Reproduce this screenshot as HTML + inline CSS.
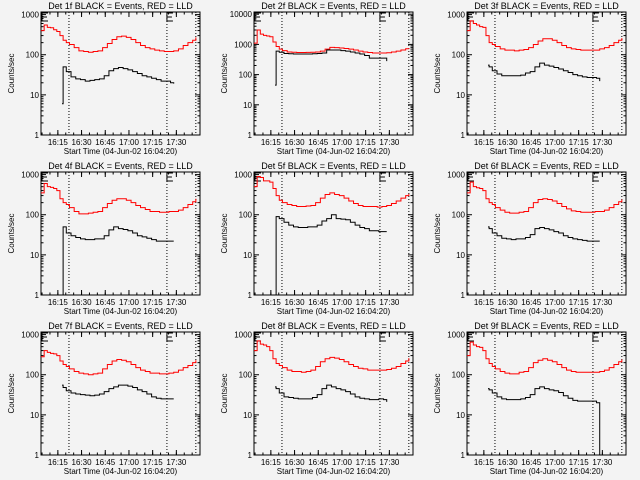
<!DOCTYPE html>
<html><head><meta charset="utf-8"><style>
html,body{margin:0;padding:0;background:#f3f3f3;}
svg{display:block;}
text{font-family:"Liberation Sans",sans-serif;fill:#000;}
</style></head><body>
<svg id="chart" width="640" height="480" viewBox="0 0 640 480" xmlns="http://www.w3.org/2000/svg">
<rect width="640" height="480" fill="#f3f3f3"/>
</svg>
<script>
const detectorNames = ["1f","2f","3f","4f","5f","6f","7f","8f","9f"];
const redTimes = [0,2,4,6,8,10,12,14,16,18,21,24,27,30,33,36,39,42,45,48,51,54,57,60,63,66,69,72,75,78,81,84,87,90,93,96,98];
const blackTimes = [13.3,14,16,19,22,25,28,31,34,37,40,43,46,49,52,55,58,61,64,67,70,73,76,79,82,84];
const red1 = [400,550,480,470,420,380,300,230,200,180,150,125,120,115,120,125,150,190,240,280,290,270,240,200,170,150,140,130,125,120,120,125,140,170,200,230,270];
const black1 = [6,50,38,28,25,24,22,23,24,25,30,40,45,48,45,42,38,34,30,28,26,24,22,22,20,19];
const red2 = [1100,3000,2200,2000,1900,1800,1200,850,700,620,560,550,540,540,545,550,560,600,700,800,780,760,730,700,650,600,560,540,520,520,520,530,560,600,650,720,750];
const black2 = [45,600,550,500,490,480,480,480,480,490,500,520,650,650,650,620,600,560,520,480,430,350,350,350,350,280];
const red3 = [400,700,600,550,500,480,300,200,180,160,140,130,130,125,130,135,150,180,220,250,250,230,200,170,150,140,135,130,130,130,130,140,150,170,200,230,260];
const black3 = [55,50,40,33,30,30,30,30,31,35,38,50,62,55,52,48,44,40,36,32,30,28,27,27,26,22];
const red4 = [350,600,500,480,450,400,250,200,180,150,120,105,105,110,115,120,150,190,230,250,250,230,200,170,150,135,120,120,115,115,120,120,130,150,180,210,250];
const black4 = [0.5,50,35,30,27,25,24,24,25,25,30,42,50,45,43,40,35,30,28,26,24,22,22,22,22,22];
const red5 = [500,900,850,700,700,650,450,300,230,200,180,170,160,160,165,170,200,260,320,350,320,300,260,220,190,170,160,160,160,155,160,170,190,220,260,300,330];
const black5 = [0.5,90,80,65,55,50,48,48,50,50,55,70,80,100,80,78,75,65,55,48,45,40,40,38,38,38];
const red6 = [350,650,500,470,450,400,250,200,180,150,130,115,110,110,115,120,150,200,240,250,240,220,190,160,140,125,120,115,115,115,120,120,130,150,180,210,240];
const black6 = [50,45,35,30,26,25,24,25,25,27,32,45,48,45,42,38,35,30,27,25,24,23,22,22,22,22];
const red7 = [280,400,360,340,330,300,220,180,160,140,120,110,105,100,105,110,140,180,220,240,230,210,180,150,130,120,110,110,105,105,110,115,130,150,170,200,230];
const black7 = [55,48,40,35,33,32,31,30,31,33,38,45,50,55,55,52,48,42,38,33,28,26,25,25,25,25];
const red8 = [400,700,580,550,500,400,250,190,170,150,130,120,120,115,120,130,160,210,250,270,260,240,210,180,160,145,140,130,130,130,130,135,145,160,190,220,260];
const black8 = [50,45,35,28,27,26,25,25,25,27,32,45,55,50,45,42,38,33,28,26,25,24,24,25,24,21];
const red9 = [300,650,550,500,480,400,250,190,160,140,120,110,105,105,115,120,150,200,230,250,230,210,180,150,130,120,115,115,115,115,115,120,130,150,180,210,240];
const black9 = [45,42,35,28,25,24,24,24,25,27,32,45,50,45,42,40,36,30,26,23,22,22,22,22,20,0.5];
const decadeCounts = [3,4,3,3,3,3,3,3,3];
const xTickLabels = ["16:15","16:30","16:45","17:00","17:15","17:30"];
const xTickTimes = [10.67,25.67,40.67,55.67,70.67,85.67];
const markerTimes = [17.7,79.7,98];
const reds=[red1,red2,red3,red4,red5,red6,red7,red8,red9];
const blacks=[black1,black2,black3,black4,black5,black6,black7,black8,black9];

const NS="http://www.w3.org/2000/svg";
const svg=document.getElementById('chart');
function mk(tag,attrs,parent){const e=document.createElementNS(NS,tag);for(const k in attrs)e.setAttribute(k,attrs[k]);parent.appendChild(e);return e;}

for(let p=0;p<9;p++){
  const ox=(p%3)*213, oy=Math.floor(p/3)*160;
  const g=mk('g',{transform:`translate(${ox},${oy})`},svg);
  
  
  const L=41,R=200,T=12,B=135;
  const nd=decadeCounts[p], dec=(B-T-1)/(nd+0.04);
  const xs=t=>L+t*1.58;
  const ys=v=>Math.min(B,Math.max(T,B-Math.log10(Math.max(v,0.1))*dec));
  const box=mk('rect',{x:L,y:T,width:R-L,height:B-T,fill:'none',stroke:'#000','stroke-width':1},g);
  
  
  const title=mk('text',{x:(L+R)/2,y:9,'text-anchor':'middle','font-size':9},g);
  title.textContent=`Det ${detectorNames[p]} BLACK = Events, RED = LLD`;
  
  
  // y ticks
  for(let d=0;d<=nd;d++){
    const y=B-d*dec;
    mk('line',{x1:L,x2:L+5,y1:y,y2:y,stroke:'#000'},g);
    mk('line',{x1:R-5,x2:R,y1:y,y2:y,stroke:'#000'},g);
    const tl=mk('text',{x:L-2,y:y+3,'text-anchor':'end','font-size':8},g);
    tl.textContent=String(Math.pow(10,d));
    
    
    if(d<nd)for(let m=2;m<10;m++){const ym=y-Math.log10(m)*dec;
      mk('line',{x1:L,x2:L+2.5,y1:ym,y2:ym,stroke:'#000'},g);
      mk('line',{x1:R-2.5,x2:R,y1:ym,y2:ym,stroke:'#000'},g);}
  }
  const yt=mk('text',{x:14,y:(T+B)/2,'text-anchor':'middle','font-size':8,transform:`rotate(-90 14 ${(T+B)/2})`},g);
  yt.textContent='Counts/sec';
  
  
  // x ticks
  for(let i=0;i<xTickTimes.length;i++){
    const x=xs(xTickTimes[i]);
    mk('line',{x1:x,x2:x,y1:B,y2:B-5,stroke:'#000'},g);
    mk('line',{x1:x,x2:x,y1:T,y2:T+5,stroke:'#000'},g);
    const tl=mk('text',{x:x,y:B+10,'text-anchor':'middle','font-size':8},g);
    tl.textContent=xTickLabels[i];
    
    
  }
  for(let t=0.67;t<100;t+=5){const x=xs(t);
    mk('line',{x1:x,x2:x,y1:B,y2:B-2.5,stroke:'#000'},g);
    mk('line',{x1:x,x2:x,y1:T,y2:T+2.5,stroke:'#000'},g);}
  const xt=mk('text',{x:(L+R)/2,y:B+19,'text-anchor':'middle','font-size':8},g);
  xt.textContent='Start Time (04-Jun-02 16:04:20)';
  
  
  // dotted markers
  markerTimes.forEach(t=>{const x=xs(t);
    const l=mk('line',{x1:x,x2:x,y1:T,y2:B,stroke:'#000','stroke-dasharray':'1,2'},g);
    
    });
  [0,79.7].forEach(t=>{const x=xs(t)+(t===0?1:0);
    const e=mk('path',{d:`M${x+6},${T+1}H${x}V${T+9}H${x+6}M${x},${T+5}H${x+5}`,fill:'none',stroke:'#000'},g);
    
    });
  // series
  function step(times,vals){let d='';for(let i=0;i<vals.length;i++){
    const x=xs(times[i]),y=ys(vals[i]);
    d+= i===0?`M${x},${y}`:`H${x}V${y}`;}
    return d;}
  const rp=mk('path',{d:step(redTimes,reds[p]),fill:'none',stroke:'#ff0000','stroke-width':1},g);
  
  
  const bp=mk('path',{d:step(blackTimes,blacks[p]),fill:'none',stroke:'#000','stroke-width':1},g);
  
  
}
</script>
</body></html>
